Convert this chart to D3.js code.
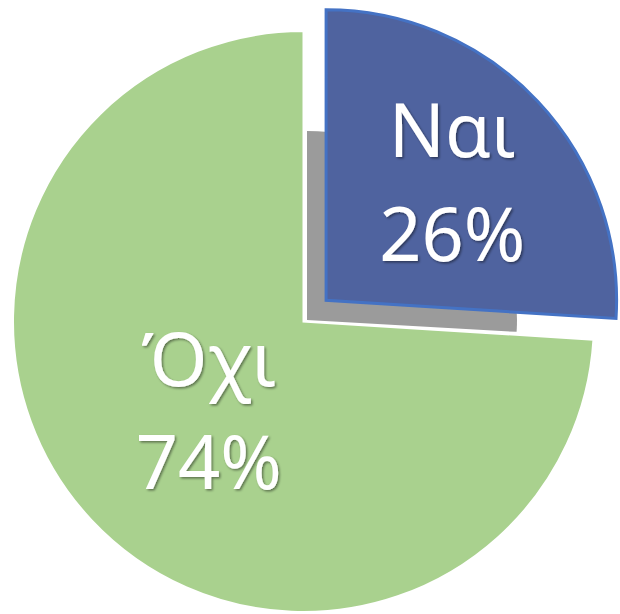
<!DOCTYPE html>
<html>
<head>
<meta charset="utf-8">
<script src="https://cdn.jsdelivr.net/npm/d3@7"></script>
<style>
  html, body { margin: 0; padding: 0; background: #ffffff; }
  svg { display: block; }
</style>
</head>
<body>
<svg id="chart" width="620" height="614"></svg>
<script>
// ---- data ----
const categories = ["Ναι", "Όχι"];
const values = [26, 74];
const percentLabels = ["26%", "74%"];

// ---- styling ----
const colors = ["#4F639F", "#A9D18E"];
const W = 620, H = 614;
const cx = 303.5, cy = 321.5, R = 290.5;
const explode = [31, 0];      // explode distance per slice
const labelR = [173, 130];    // label radius per slice

const svg = d3.select("#chart");
const defs = svg.append("defs");
const f = defs.append("filter").attr("id", "ts")
  .attr("x", "-20%").attr("y", "-20%").attr("width", "140%").attr("height", "140%");
f.append("feDropShadow").attr("dx", 1.5).attr("dy", 1.5)
  .attr("stdDeviation", 1.2).attr("flood-color", "#000").attr("flood-opacity", 0.45);

const pie = d3.pie().sort(null).value(d => d)(values);
const arc = d3.arc().innerRadius(0).outerRadius(R);

const g = svg.append("g").attr("transform", `translate(${cx},${cy})`);

function offset(d, i) {
  const a = (d.startAngle + d.endAngle) / 2;
  return [Math.sin(a) * explode[i], -Math.cos(a) * explode[i]];
}

// green slice (not exploded)
const dG = pie[1];
g.append("path").attr("d", arc(dG))
  .attr("fill", colors[1]).attr("stroke", "#ffffff").attr("stroke-width", 2);

// shadow of exploded slice
const dB = pie[0];
g.append("path").attr("d", arc(dB))
  .attr("fill", "#9B9B9B")
  .attr("transform", `translate(3.5,-1.5) scale(${210 / R},${189 / R})`);

// exploded blue slice
const oB = offset(dB, 0);
g.append("path").attr("d", arc(dB))
  .attr("transform", `translate(${oB[0]},${oB[1]})`)
  .attr("fill", colors[0]).attr("stroke", "#4472C4").attr("stroke-width", 3)
  .attr("stroke-linejoin", "miter");

// labels
pie.forEach((d, i) => {
  const o = offset(d, i);
  const lArc = d3.arc().innerRadius(labelR[i]).outerRadius(labelR[i]);
  const c = lArc.centroid(d);
  const x = c[0] + o[0], y = c[1] + o[1];
  const t = g.append("text")
    .attr("text-anchor", "middle")
    .attr("font-family", "'Noto Sans', 'Open Sans', sans-serif")
    .attr("font-size", 74)
    .attr("fill", "#ffffff")
    .attr("filter", "url(#ts)");
  t.append("tspan").attr("x", x).attr("y", y - 25).text(categories[i]);
  t.append("tspan").attr("x", x).attr("y", y + 79).text(percentLabels[i]);
});
</script>
</body>
</html>
